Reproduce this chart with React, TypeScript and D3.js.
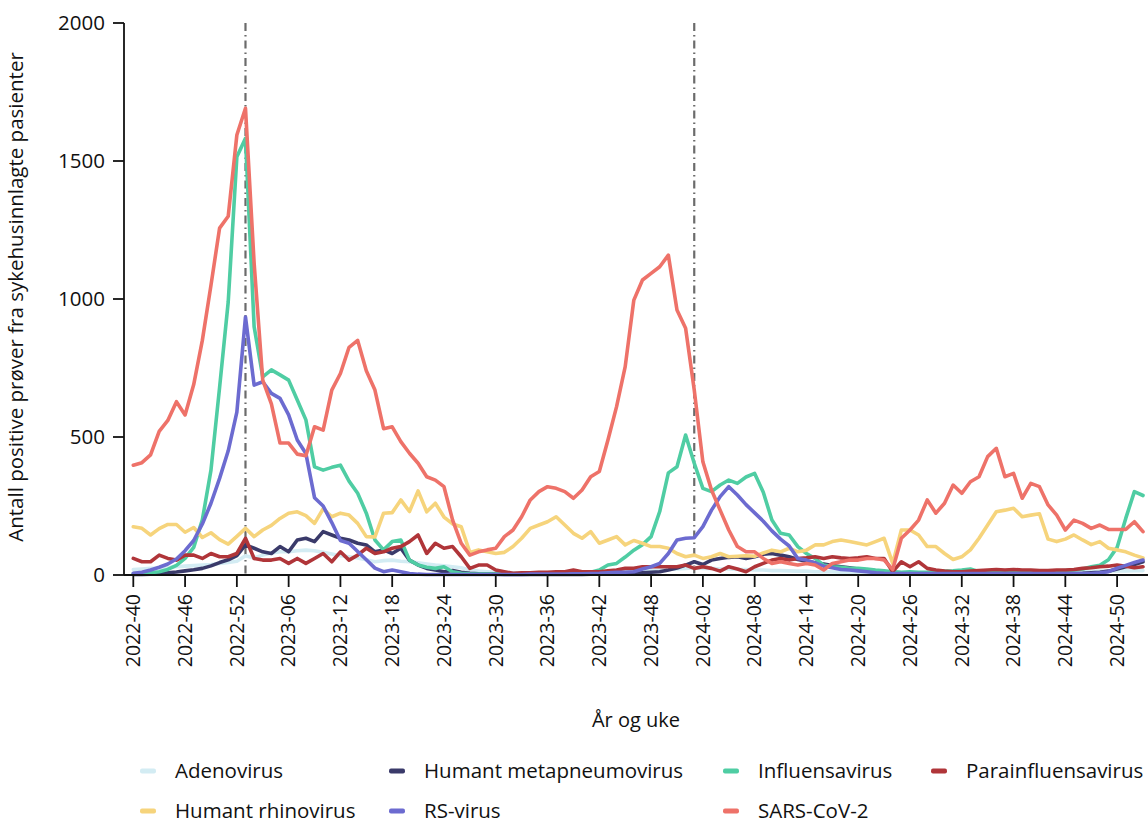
import React from "react";
import * as d3 from "d3";

// Week labels: 2022-40 .. 2025-01
const weekLabels: string[] = (() => {
  const out: string[] = [];
  const spans: [number, number, number][] = [[2022, 40, 52], [2023, 1, 52], [2024, 1, 52], [2025, 1, 1]];
  for (const [y, a, b] of spans) for (let w = a; w <= b; w++) out.push(`${y}-${String(w).padStart(2, "0")}`);
  return out;
})();

const tickLabels = ["2022-40","2022-46","2022-52","2023-06","2023-12","2023-18","2023-24","2023-30","2023-36","2023-42","2023-48","2024-02","2024-08","2024-14","2024-20","2024-26","2024-32","2024-38","2024-44","2024-50"];
const markerWeeks = ["2023-01", "2024-01"];
const yTicks = [0, 500, 1000, 1500, 2000];

const adenovirus = [20,22,24,25,27,30,32,34,36,38,42,45,50,70,62,72,80,84,84,88,90,88,82,76,70,66,62,55,48,52,54,50,48,44,40,36,33,30,26,18,14,12,10,9,8,8,8,8,8,9,9,10,10,10,11,12,12,13,14,15,16,18,20,22,24,26,24,24,22,22,20,20,18,18,16,16,15,14,14,12,12,12,10,10,10,10,9,9,8,8,8,8,8,8,8,8,8,9,9,9,10,10,10,10,10,11,11,12,12,12,13,13,14,14,15,15,16,16];
const metapneumo = [2,2,3,5,8,11,15,19,24,33,45,55,70,109,97,84,78,103,84,127,133,121,157,145,133,127,115,109,84,91,78,97,54,36,24,18,12,16,10,6,4,3,3,2,2,2,2,2,2,2,2,2,2,3,3,3,4,5,6,8,10,12,18,25,36,48,38,54,60,64,66,60,66,75,78,72,66,56,50,44,40,34,30,26,22,18,15,12,10,8,6,5,5,4,4,4,4,4,4,4,4,4,4,4,4,4,4,5,5,5,6,8,10,14,22,30,38,48];
const influensa = [5,5,8,12,20,35,60,100,200,380,680,990,1515,1582,900,718,743,725,706,634,562,392,380,390,398,340,296,224,127,91,121,127,54,36,28,24,30,12,6,4,3,3,3,3,3,3,4,4,5,5,6,6,8,10,18,36,42,65,90,110,139,230,370,392,507,405,314,302,326,344,332,355,368,300,199,151,145,103,78,60,36,30,28,24,24,22,18,15,12,10,12,10,10,12,14,15,18,22,12,10,10,10,10,10,10,12,12,14,16,18,22,30,35,55,100,205,302,288];
const parainfluensa = [60,48,48,72,60,54,72,72,60,78,66,66,78,133,60,54,54,60,42,60,42,60,78,48,84,54,72,97,78,84,97,103,121,145,78,115,97,103,66,24,36,36,18,12,6,8,8,10,10,12,12,18,12,12,12,15,18,24,24,30,30,30,30,30,36,24,30,24,14,30,22,12,30,42,54,60,54,60,62,66,60,66,62,60,62,66,60,60,12,48,30,48,24,18,14,12,12,14,16,18,20,18,20,18,18,16,16,18,18,20,24,26,30,32,36,32,26,30];
const rhinovirus = [175,169,145,168,183,183,155,172,136,153,128,112,140,169,139,163,180,205,224,229,215,187,240,211,224,217,187,139,138,224,226,272,230,305,229,260,210,185,175,82,91,84,78,82,103,133,169,181,193,211,181,151,133,157,115,127,139,109,125,115,103,103,97,78,66,72,60,66,78,66,68,70,68,80,90,84,97,84,90,109,109,121,127,121,115,109,121,133,42,163,163,145,103,103,78,56,66,91,133,181,229,235,242,211,217,222,130,121,130,145,127,110,121,97,91,84,72,62];
const rsvirus = [6,10,18,28,40,58,88,125,185,260,350,450,590,935,688,700,658,640,580,489,440,280,250,190,125,115,85,55,25,12,18,12,5,3,2,2,2,2,2,2,2,2,2,2,2,2,3,3,3,3,3,4,4,5,6,8,10,10,12,22,30,42,78,127,133,135,175,235,284,320,290,255,225,195,160,130,105,60,54,44,32,26,20,18,15,12,8,6,5,5,5,5,5,5,5,5,5,5,5,5,5,5,5,5,5,5,5,5,5,5,5,5,8,12,25,35,45,54];
const sarscov2 = [398,407,435,520,560,628,580,690,850,1050,1257,1300,1594,1691,1130,706,620,478,478,438,432,537,525,670,730,825,850,740,670,530,537,483,441,405,356,344,320,199,115,72,84,91,97,139,163,211,272,302,320,314,302,278,308,356,375,489,610,755,996,1069,1093,1117,1159,960,894,670,410,308,235,163,103,84,84,60,42,48,42,36,42,36,18,42,48,54,54,60,60,54,20,133,163,199,272,224,260,326,296,338,356,429,459,356,368,278,332,320,254,217,163,199,187,169,181,165,165,165,193,157];

const seriesNames = ["Adenovirus", "Humant metapneumovirus", "Influensavirus", "Parainfluensavirus", "Humant rhinovirus", "RS-virus", "SARS-CoV-2"];
const seriesValues = [adenovirus, metapneumo, influensa, parainfluensa, rhinovirus, rsvirus, sarscov2];
const seriesColors = ["#D3ECF3", "#3A3A6A", "#4FCDA3", "#B03539", "#F6D47C", "#6C6BD0", "#EE7269"];

const FONT = "'Open Sans', sans-serif";

export default function App() {
  const left = 124, x0 = 133.3, x1 = 1143, top = 23, bottom = 575;
  const x = d3.scalePoint<string>().domain(weekLabels).range([x0, x1]).padding(0);
  const y = d3.scaleLinear().domain([0, 2000]).range([bottom, top]);
  const line = d3.line<number>().x((_, i) => x(weekLabels[i]) as number).y((d) => y(d));

  const legendCols = [140, 389, 723, 931];
  const legendRows = [771, 811];
  const legendItems = [
    { s: 0, c: 0, r: 0 }, { s: 1, c: 1, r: 0 }, { s: 2, c: 2, r: 0 }, { s: 3, c: 3, r: 0 },
    { s: 4, c: 0, r: 1 }, { s: 5, c: 1, r: 1 }, { s: 6, c: 2, r: 1 },
  ];

  return (
    <svg width={1148} height={823} style={{ position: "absolute", left: 0, top: 0, background: "#fff" }} fontFamily={FONT}>
      {/* dashed year markers */}
      {markerWeeks.map((w) => (
        <line key={w} x1={x(w)} x2={x(w)} y1={top} y2={bottom} stroke="#6b6b6b" strokeWidth={2.2} strokeDasharray="8,4,1.5,4" />
      ))}
      {/* series */}
      {seriesValues.map((vals, k) => (
        <path key={seriesNames[k]} d={line(vals) || ""} fill="none" stroke={seriesColors[k]} strokeWidth={3.6} strokeLinejoin="round" strokeLinecap="round" />
      ))}
      {/* y axis */}
      <line x1={left} x2={left} y1={top} y2={bottom} stroke="#111" strokeWidth={1.8} />
      {yTicks.map((t) => (
        <g key={t} transform={`translate(0,${y(t)})`}>
          <line x1={left - 11} x2={left} stroke="#111" strokeWidth={1.8} />
          <text x={left - 19} dy="0.35em" textAnchor="end" fontSize={20.5} fill="#111">{t}</text>
        </g>
      ))}
      <text transform={`translate(23,${297}) rotate(-90)`} textAnchor="middle" fontSize={20.5} fill="#111">
        Antall positive prøver fra sykehusinnlagte pasienter
      </text>
      {/* x axis */}
      <line x1={left} x2={1148} y1={bottom} y2={bottom} stroke="#111" strokeWidth={1.8} />
      {tickLabels.map((t) => (
        <g key={t} transform={`translate(${x(t)},${bottom})`}>
          <line y1={0} y2={12} stroke="#111" strokeWidth={1.8} />
          <text transform="translate(0,19) rotate(-90)" dy="0.35em" textAnchor="end" fontSize={19.5} fill="#111">{t}</text>
        </g>
      ))}
      <text x={636} y={727} textAnchor="middle" fontSize={20} fill="#111">År og uke</text>
      {/* legend */}
      {legendItems.map(({ s, c, r }) => (
        <g key={seriesNames[s]} transform={`translate(${legendCols[c]},${legendRows[r]})`}>
          <rect x={0} y={-2.5} width={16} height={5} rx={2} fill={seriesColors[s]} />
          <text x={35} dy="0.35em" fontSize={20.5} fill="#111">{seriesNames[s]}</text>
        </g>
      ))}
    </svg>
  );
}
